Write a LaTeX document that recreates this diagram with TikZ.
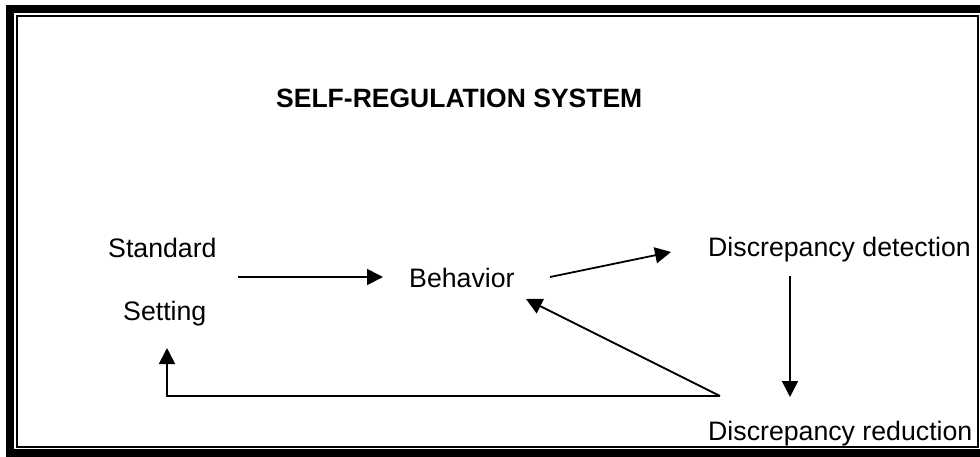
\documentclass[tikz,border=0pt]{standalone}
\usepackage{fontspec}
\setmainfont{Liberation Sans}
\usetikzlibrary{arrows.meta}
\begin{document}
\begin{tikzpicture}[x=1pt,y=-1pt,
  lbl/.style={anchor=base west,inner sep=0pt,font=\fontsize{26.7}{32}\selectfont},
  ttl/.style={anchor=base west,inner sep=0pt,font=\fontsize{26.5}{32}\selectfont\bfseries},
  conn/.style={line width=1.8pt,-{Triangle[length=16pt,width=16pt]}},
  plain/.style={line width=1.8pt}]
\useasboundingbox (0,0) rectangle (980,456);
% border
\draw[line width=8pt] (10,460) -- (10,9) -- (990,9);
\draw[line width=8pt] (6,453) -- (990,453);
\draw[line width=2pt] (17,16) rectangle (978,447);
% texts
\node[ttl] (title) at (276,107) {SELF-REGULATION SYSTEM};
\node[lbl] (std) at (108,257) {Standard};
\node[lbl] (set) at (123,320) {Setting};
\node[lbl] (beh) at (409,287) {Behavior};
\node[lbl] (det) at (708,256) {Discrepancy detection};
\node[lbl] (red) at (708,440) {Discrepancy reduction};
% connector points
\coordinate (a1) at (238,277);
\coordinate (a2) at (383,277);
\coordinate (b1) at (550,277);
\coordinate (b2) at (671,252);
\coordinate (c1) at (790,276);
\coordinate (c2) at (790,397);
\coordinate (r0) at (720,396);
\coordinate (r1) at (526,299);
\coordinate (s0) at (167,396);
\coordinate (s1) at (167,348);
% connectors
\draw[conn] (a1) -- (a2);
\draw[conn] (b1) -- (b2);
\draw[conn] (c1) -- (c2);
\draw[conn] (r0) -- (r1);
\draw[conn] (r0) -- (s0) -- (s1);
\end{tikzpicture}
\end{document}
